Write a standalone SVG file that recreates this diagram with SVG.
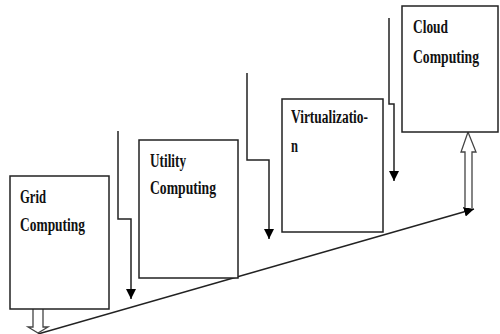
<svg xmlns="http://www.w3.org/2000/svg" width="500" height="334" viewBox="0 0 500 334">
<defs>
<marker id="ah" viewBox="0 0 10 10" refX="10" refY="5" markerWidth="10" markerHeight="10" markerUnits="userSpaceOnUse" orient="auto">
<path d="M0,0 L10,5 L0,10 Z" fill="#000"/>
</marker>
</defs>
<style>
.box{fill:#fff;stroke:#222;stroke-width:1.5}
.t{font-family:"Liberation Serif","Times New Roman",serif;font-weight:bold;font-size:18px;fill:#111}
.c{fill:none;stroke:#222;stroke-width:1.5}
.h{fill:#fff;stroke:#444;stroke-width:1.3}
</style>
<rect width="500" height="334" fill="#fff"/>
<g id="connectors">
<polyline class="c" points="118,131 118,219 131,219 131,299" marker-end="url(#ah)"/>
<polyline class="c" points="247,73 247,160 269,160 269,239" marker-end="url(#ah)"/>
<polyline class="c" points="389,18 389,104 394,104 394,181" marker-end="url(#ah)"/>
<line class="c" x1="38" y1="334" x2="474" y2="209" marker-end="url(#ah)"/>
<path class="h" d="M33,309 L33,327 L28,327 L38,333 L48,327 L43,327 L43,309"/>
<path class="h" d="M465,208 L465,152 L461,152 L468,132 L476,152 L472,152 L472,208"/>
</g>
<g id="grid">
<rect class="box" x="10" y="176" width="99" height="133"/>
<text class="t" x="20" y="203" textLength="26" lengthAdjust="spacingAndGlyphs">Grid</text>
<text class="t" x="20" y="231" textLength="65" lengthAdjust="spacingAndGlyphs">Computing</text>
</g>
<g id="utility">
<rect class="box" x="139" y="140" width="99" height="138"/>
<text class="t" x="150" y="167" textLength="36" lengthAdjust="spacingAndGlyphs">Utility</text>
<text class="t" x="150" y="194" textLength="66" lengthAdjust="spacingAndGlyphs">Computing</text>
</g>
<g id="virtualization">
<rect class="box" x="282" y="99" width="101" height="133"/>
<text class="t" x="291" y="123" textLength="77" lengthAdjust="spacingAndGlyphs">Virtualizatio-</text>
<text class="t" x="291" y="152" textLength="7" lengthAdjust="spacingAndGlyphs">n</text>
</g>
<g id="cloud">
<rect class="box" x="402" y="6" width="96" height="126"/>
<text class="t" x="413" y="33" textLength="35" lengthAdjust="spacingAndGlyphs">Cloud</text>
<text class="t" x="413" y="63" textLength="66" lengthAdjust="spacingAndGlyphs">Computing</text>
</g>
</svg>
